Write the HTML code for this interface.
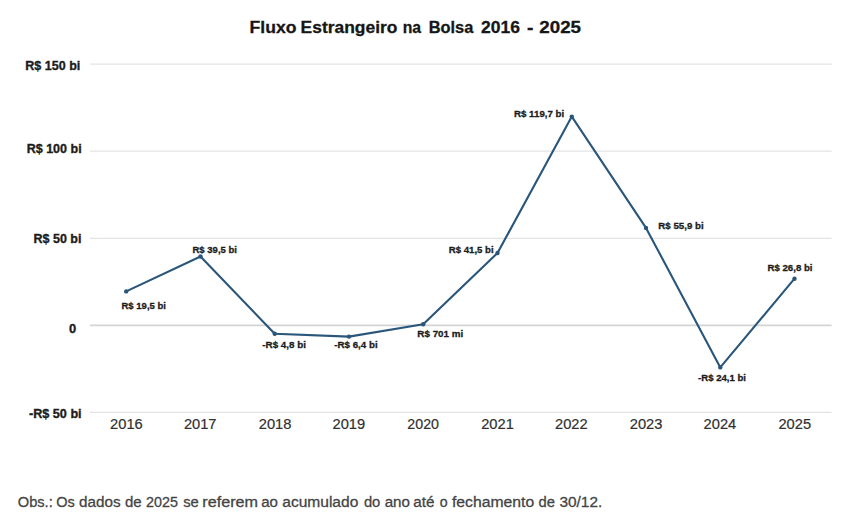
<!DOCTYPE html>
<html><head><meta charset="utf-8"><title>Fluxo Estrangeiro na Bolsa 2016 - 2025</title>
<style>html,body{margin:0;padding:0;background:#fff;}svg{display:block;font-family:"Liberation Sans",sans-serif;}</style></head>
<body><svg width="849" height="520" viewBox="0 0 849 520">
<rect width="849" height="520" fill="#fff"/>
<line x1="90" y1="64.2" x2="831.6" y2="64.2" stroke="#e3e3e3" stroke-width="1.3"/>
<line x1="90" y1="151.1" x2="831.6" y2="151.1" stroke="#e3e3e3" stroke-width="1.3"/>
<line x1="90" y1="238.3" x2="831.6" y2="238.3" stroke="#e3e3e3" stroke-width="1.3"/>
<line x1="90" y1="325.4" x2="831.6" y2="325.4" stroke="#d4d4d4" stroke-width="1.8"/>
<line x1="90" y1="412.4" x2="831.6" y2="412.4" stroke="#e3e3e3" stroke-width="1.3"/>
<text x="25.29" y="70.3" font-size="12.9" font-weight="bold" fill="#1c1c1c" stroke="#1c1c1c" stroke-width="0.35" textLength="55.02" lengthAdjust="spacingAndGlyphs">R$ 150 bi</text>
<text x="26.68" y="152.6" font-size="12.9" font-weight="bold" fill="#1c1c1c" stroke="#1c1c1c" stroke-width="0.35" textLength="54.95" lengthAdjust="spacingAndGlyphs">R$ 100 bi</text>
<text x="33.58" y="242.8" font-size="12.9" font-weight="bold" fill="#1c1c1c" stroke="#1c1c1c" stroke-width="0.35" textLength="47.84" lengthAdjust="spacingAndGlyphs">R$ 50 bi</text>
<text x="69.00" y="332.6" font-size="12.9" font-weight="bold" fill="#1c1c1c" stroke="#1c1c1c" stroke-width="0.35" textLength="7.19" lengthAdjust="spacingAndGlyphs">0</text>
<text x="29.00" y="417.6" font-size="12.9" font-weight="bold" fill="#1c1c1c" stroke="#1c1c1c" stroke-width="0.35" textLength="52.62" lengthAdjust="spacingAndGlyphs">-R$ 50 bi</text>
<text x="249.56" y="32.7" font-size="17.4" font-weight="bold" fill="#161616" stroke="#161616" stroke-width="0.3" textLength="46.86" lengthAdjust="spacingAndGlyphs">Fluxo</text>
<text x="300.58" y="32.7" font-size="17.4" font-weight="bold" fill="#161616" stroke="#161616" stroke-width="0.3" textLength="96.83" lengthAdjust="spacingAndGlyphs">Estrangeiro</text>
<text x="402.74" y="32.7" font-size="17.4" font-weight="bold" fill="#161616" stroke="#161616" stroke-width="0.3" textLength="18.39" lengthAdjust="spacingAndGlyphs">na</text>
<text x="428.70" y="32.7" font-size="17.4" font-weight="bold" fill="#161616" stroke="#161616" stroke-width="0.3" textLength="44.61" lengthAdjust="spacingAndGlyphs">Bolsa</text>
<text x="481.00" y="32.7" font-size="17.4" font-weight="bold" fill="#161616" stroke="#161616" stroke-width="0.3" textLength="38.92" lengthAdjust="spacingAndGlyphs">2016</text>
<text x="527.07" y="32.7" font-size="17.4" font-weight="bold" fill="#161616" stroke="#161616" stroke-width="0.3" textLength="6.40" lengthAdjust="spacingAndGlyphs">-</text>
<text x="539.29" y="32.7" font-size="17.4" font-weight="bold" fill="#161616" stroke="#161616" stroke-width="0.3" textLength="41.71" lengthAdjust="spacingAndGlyphs">2025</text>
<text x="110.07" y="428.7" font-size="14.6" font-weight="normal" fill="#303030" stroke="#303030" stroke-width="0.2" textLength="32.63" lengthAdjust="spacingAndGlyphs">2016</text>
<text x="183.90" y="428.7" font-size="14.6" font-weight="normal" fill="#303030" stroke="#303030" stroke-width="0.2" textLength="32.63" lengthAdjust="spacingAndGlyphs">2017</text>
<text x="258.72" y="428.7" font-size="14.6" font-weight="normal" fill="#303030" stroke="#303030" stroke-width="0.2" textLength="32.67" lengthAdjust="spacingAndGlyphs">2018</text>
<text x="332.53" y="428.7" font-size="14.6" font-weight="normal" fill="#303030" stroke="#303030" stroke-width="0.2" textLength="32.67" lengthAdjust="spacingAndGlyphs">2019</text>
<text x="407.36" y="428.7" font-size="14.6" font-weight="normal" fill="#303030" stroke="#303030" stroke-width="0.2" textLength="31.64" lengthAdjust="spacingAndGlyphs">2020</text>
<text x="481.17" y="428.7" font-size="14.6" font-weight="normal" fill="#303030" stroke="#303030" stroke-width="0.2" textLength="32.67" lengthAdjust="spacingAndGlyphs">2021</text>
<text x="555.02" y="428.7" font-size="14.6" font-weight="normal" fill="#303030" stroke="#303030" stroke-width="0.2" textLength="32.63" lengthAdjust="spacingAndGlyphs">2022</text>
<text x="629.81" y="428.7" font-size="14.6" font-weight="normal" fill="#303030" stroke="#303030" stroke-width="0.2" textLength="32.63" lengthAdjust="spacingAndGlyphs">2023</text>
<text x="703.64" y="428.7" font-size="14.6" font-weight="normal" fill="#303030" stroke="#303030" stroke-width="0.2" textLength="32.63" lengthAdjust="spacingAndGlyphs">2024</text>
<text x="778.46" y="428.7" font-size="14.6" font-weight="normal" fill="#303030" stroke="#303030" stroke-width="0.2" textLength="32.63" lengthAdjust="spacingAndGlyphs">2025</text>
<text x="121.48" y="308.6" font-size="9.8" font-weight="bold" fill="#1c1c1c" stroke="#1c1c1c" stroke-width="0.3" textLength="44.52" lengthAdjust="spacingAndGlyphs">R$ 19,5 bi</text>
<text x="192.48" y="252.9" font-size="9.8" font-weight="bold" fill="#1c1c1c" stroke="#1c1c1c" stroke-width="0.3" textLength="44.52" lengthAdjust="spacingAndGlyphs">R$ 39,5 bi</text>
<text x="262.30" y="348.3" font-size="9.8" font-weight="bold" fill="#1c1c1c" stroke="#1c1c1c" stroke-width="0.3" textLength="43.70" lengthAdjust="spacingAndGlyphs">-R$ 4,8 bi</text>
<text x="334.30" y="348.3" font-size="9.8" font-weight="bold" fill="#1c1c1c" stroke="#1c1c1c" stroke-width="0.3" textLength="43.31" lengthAdjust="spacingAndGlyphs">-R$ 6,4 bi</text>
<text x="417.36" y="336.9" font-size="9.8" font-weight="bold" fill="#1c1c1c" stroke="#1c1c1c" stroke-width="0.3" textLength="45.88" lengthAdjust="spacingAndGlyphs">R$ 701 mi</text>
<text x="448.79" y="253.0" font-size="9.8" font-weight="bold" fill="#1c1c1c" stroke="#1c1c1c" stroke-width="0.3" textLength="44.82" lengthAdjust="spacingAndGlyphs">R$ 41,5 bi</text>
<text x="514.00" y="116.9" font-size="9.8" font-weight="bold" fill="#1c1c1c" stroke="#1c1c1c" stroke-width="0.3" textLength="50.21" lengthAdjust="spacingAndGlyphs">R$ 119,7 bi</text>
<text x="658.30" y="229.4" font-size="9.8" font-weight="bold" fill="#1c1c1c" stroke="#1c1c1c" stroke-width="0.3" textLength="45.33" lengthAdjust="spacingAndGlyphs">R$ 55,9 bi</text>
<text x="698.09" y="381.4" font-size="9.8" font-weight="bold" fill="#1c1c1c" stroke="#1c1c1c" stroke-width="0.3" textLength="47.91" lengthAdjust="spacingAndGlyphs">-R$ 24,1 bi</text>
<text x="767.47" y="270.9" font-size="9.8" font-weight="bold" fill="#1c1c1c" stroke="#1c1c1c" stroke-width="0.3" textLength="45.07" lengthAdjust="spacingAndGlyphs">R$ 26,8 bi</text>
<text x="17.74" y="506.9" font-size="15.4" font-weight="normal" fill="#444444" stroke="#444444" stroke-width="0.3" textLength="35.01" lengthAdjust="spacingAndGlyphs">Obs.:</text>
<text x="56.21" y="506.9" font-size="15.4" font-weight="normal" fill="#444444" stroke="#444444" stroke-width="0.3" textLength="18.51" lengthAdjust="spacingAndGlyphs">Os</text>
<text x="79.08" y="506.9" font-size="15.4" font-weight="normal" fill="#444444" stroke="#444444" stroke-width="0.3" textLength="41.63" lengthAdjust="spacingAndGlyphs">dados</text>
<text x="125.04" y="506.9" font-size="15.4" font-weight="normal" fill="#444444" stroke="#444444" stroke-width="0.3" textLength="16.67" lengthAdjust="spacingAndGlyphs">de</text>
<text x="146.08" y="506.9" font-size="15.4" font-weight="normal" fill="#444444" stroke="#444444" stroke-width="0.3" textLength="31.92" lengthAdjust="spacingAndGlyphs">2025</text>
<text x="183.13" y="506.9" font-size="15.4" font-weight="normal" fill="#444444" stroke="#444444" stroke-width="0.3" textLength="15.59" lengthAdjust="spacingAndGlyphs">se</text>
<text x="202.36" y="506.9" font-size="15.4" font-weight="normal" fill="#444444" stroke="#444444" stroke-width="0.3" textLength="55.67" lengthAdjust="spacingAndGlyphs">referem</text>
<text x="261.17" y="506.9" font-size="15.4" font-weight="normal" fill="#444444" stroke="#444444" stroke-width="0.3" textLength="16.81" lengthAdjust="spacingAndGlyphs">ao</text>
<text x="282.27" y="506.9" font-size="15.4" font-weight="normal" fill="#444444" stroke="#444444" stroke-width="0.3" textLength="76.04" lengthAdjust="spacingAndGlyphs">acumulado</text>
<text x="363.89" y="506.9" font-size="15.4" font-weight="normal" fill="#444444" stroke="#444444" stroke-width="0.3" textLength="16.40" lengthAdjust="spacingAndGlyphs">do</text>
<text x="384.66" y="506.9" font-size="15.4" font-weight="normal" fill="#444444" stroke="#444444" stroke-width="0.3" textLength="25.28" lengthAdjust="spacingAndGlyphs">ano</text>
<text x="413.35" y="506.9" font-size="15.4" font-weight="normal" fill="#444444" stroke="#444444" stroke-width="0.3" textLength="21.19" lengthAdjust="spacingAndGlyphs">até</text>
<text x="439.67" y="506.9" font-size="15.4" font-weight="normal" fill="#444444" stroke="#444444" stroke-width="0.3" textLength="7.91" lengthAdjust="spacingAndGlyphs">o</text>
<text x="452.00" y="506.9" font-size="15.4" font-weight="normal" fill="#444444" stroke="#444444" stroke-width="0.3" textLength="82.21" lengthAdjust="spacingAndGlyphs">fechamento</text>
<text x="538.57" y="506.9" font-size="15.4" font-weight="normal" fill="#444444" stroke="#444444" stroke-width="0.3" textLength="16.43" lengthAdjust="spacingAndGlyphs">de</text>
<text x="559.47" y="506.9" font-size="15.4" font-weight="normal" fill="#444444" stroke="#444444" stroke-width="0.3" textLength="42.75" lengthAdjust="spacingAndGlyphs">30/12.</text>
<polyline points="126.2,291.4 200.5,256.5 274.7,333.8 349.0,336.6 423.2,324.2 497.5,253.0 571.8,116.6 646.0,227.9 720.3,367.4 794.5,278.7" fill="none" stroke="#29567a" stroke-width="2.1" stroke-linejoin="round"/>
<circle cx="126.2" cy="291.4" r="2.2" fill="#29567a"/>
<circle cx="200.5" cy="256.5" r="2.2" fill="#29567a"/>
<circle cx="274.7" cy="333.8" r="2.2" fill="#29567a"/>
<circle cx="349.0" cy="336.6" r="2.2" fill="#29567a"/>
<circle cx="423.2" cy="324.2" r="2.2" fill="#29567a"/>
<circle cx="497.5" cy="253.0" r="2.2" fill="#29567a"/>
<circle cx="571.8" cy="116.6" r="2.2" fill="#29567a"/>
<circle cx="646.0" cy="227.9" r="2.2" fill="#29567a"/>
<circle cx="720.3" cy="367.4" r="2.2" fill="#29567a"/>
<circle cx="794.5" cy="278.7" r="2.2" fill="#29567a"/>
</svg></body></html>
